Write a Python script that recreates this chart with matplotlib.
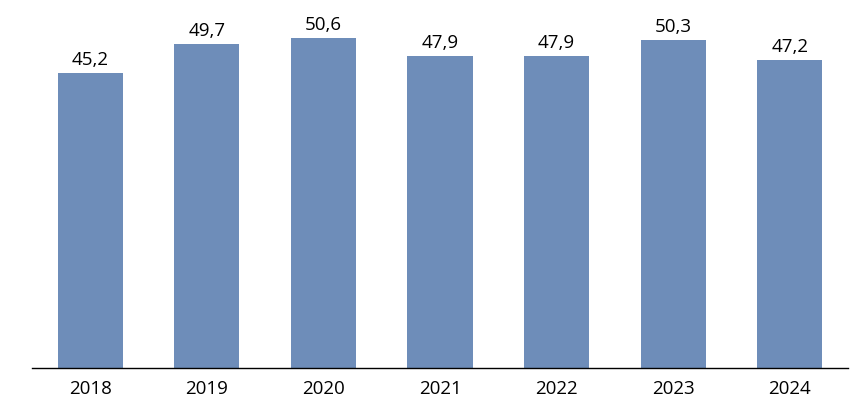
import matplotlib
matplotlib.use("Agg")
import matplotlib.pyplot as plt

years = ["2018", "2019", "2020", "2021", "2022", "2023", "2024"]
values = [45.2, 49.7, 50.6, 47.9, 47.9, 50.3, 47.2]
bar_color = "#6E8DB9"

plt.rcParams['font.family'] = ['Open Sans', 'DejaVu Sans']

fig = plt.figure(figsize=(8.61, 4.10), dpi=100)
ax = fig.add_axes([32 / 861, 41 / 410, 816 / 861, 369 / 410])

x = range(len(years))
bars = ax.bar(x, values, width=0.56, color=bar_color)

# labels above bars, with comma as decimal sign
for b, v in zip(bars, values):
    ax.annotate(f"{v:.1f}".replace(".", ","), (b.get_x() + b.get_width() / 2, v),
                xytext=(0, 3.5), textcoords="offset points",
                ha="center", va="bottom", fontsize=13.5, color="black")

ax.set_xlim(-0.5, len(years) - 0.5)
ax.set_ylim(0, 56.6)
ax.set_xticks(list(x))
ax.set_xticklabels(years, fontsize=13.5)
ax.tick_params(axis="x", length=0, pad=8)
ax.set_yticks([])
for s in ["top", "right", "left"]:
    ax.spines[s].set_visible(False)
ax.spines["bottom"].set_linewidth(1.0)
ax.spines["bottom"].set_color("black")

fig.savefig("out.png", dpi=100)
